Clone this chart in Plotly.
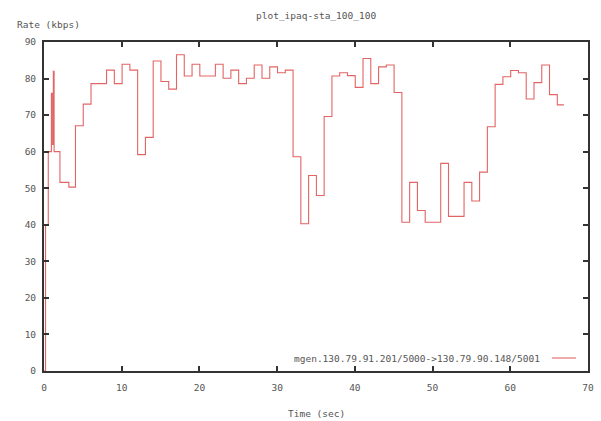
import plotly.graph_objects as go

# ---- data ----
time_sec = [0.0, 0.20, 0.55, 0.95, 1.05, 1.20, 1.30,
            2.05, 3.2, 4.05, 5.05, 6.05, 7.05, 8.05, 9.05, 10.05, 11.05,
            12.05, 13.05, 14.05, 15.05, 16.05, 17.05, 18.05, 19.05, 20.05, 21.05,
            22.05, 23.05, 24.05, 25.05, 26.05, 27.05, 28.05, 29.05, 30.05, 31.05,
            32.05, 33.05, 34.05, 35.05, 36.05, 37.05, 38.05, 39.05, 40.05, 41.05,
            42.05, 43.05, 44.05, 45.05, 46.05, 47.05, 48.05, 49.05, 50.05, 51.05,
            52.05, 53.05, 54.05, 55.05, 56.05, 57.05, 58.05, 59.05, 60.05, 61.05,
            62.05, 63.05, 64.05, 65.05, 66.05, 66.9]
rate_kbps = [0, 40, 60, 76, 62, 82, 60,
             51.6, 50.3, 67.1, 73.0, 78.6, 78.6, 82.3, 78.6, 83.9, 82.3,
             59.2, 63.9, 84.8, 79.2, 77.1, 86.5, 80.7, 83.9, 80.7, 80.7,
             83.9, 80.1, 82.3, 78.6, 80.1, 83.7, 80.1, 83.2, 81.6, 82.3,
             58.6, 40.3, 53.5, 48.0, 69.6, 80.7, 81.6, 80.8, 77.6, 85.5,
             78.6, 83.2, 83.7, 76.2, 40.7, 51.6, 43.9, 40.7, 40.7, 56.8,
             42.3, 42.3, 51.6, 46.5, 54.4, 66.8, 78.4, 80.5, 82.2, 81.6,
             74.4, 78.9, 83.7, 75.6, 72.8, 72.8]

x_ticks = [0, 10, 20, 30, 40, 50, 60, 70]
y_ticks = [0, 10, 20, 30, 40, 50, 60, 70, 80, 90]

title_text = "plot_ipaq-sta_100_100"
x_label = "Time (sec)"
y_label = "Rate (kbps)"
series_name = "mgen.130.79.91.201/5000->130.79.90.148/5001"

LINE_COLOR = "#e26464"
FONT = dict(family="DejaVu Sans Mono, Liberation Mono, monospace", size=9.5, color="#555555")

fig = go.Figure()
fig.add_trace(go.Scatter(
    x=time_sec, y=rate_kbps, mode="lines", name=series_name,
    line=dict(color=LINE_COLOR, width=1.1, shape="hv"),
    showlegend=False, hoverinfo="skip",
))

axis_common = dict(
    showgrid=False, zeroline=False, showline=True, linecolor="#333333", linewidth=2,
    mirror="ticks", ticks="inside", ticklen=5, tickwidth=1.5, tickcolor="#333333",
    tickfont=FONT,
)
fig.update_xaxes(range=[0, 70], tickvals=x_ticks, ticktext=[str(v) for v in x_ticks],
                 ticklabelstandoff=7, **axis_common)
fig.update_yaxes(range=[0, 90], tickvals=y_ticks, ticktext=[str(v) for v in y_ticks],
                 ticklabelstandoff=4, **axis_common)

fig.update_layout(
    width=601, height=421,
    margin=dict(l=44, r=7, t=42, b=50),
    paper_bgcolor="white", plot_bgcolor="white",
    font=FONT,
    showlegend=False,
    annotations=[
        dict(text=title_text, xref="paper", yref="paper", x=0.5, y=1, yshift=27,
             xanchor="center", yanchor="middle", showarrow=False, font=FONT),
        dict(text=y_label, xref="paper", yref="paper", x=0, xshift=-29, y=1, yshift=18,
             xanchor="left", yanchor="middle", showarrow=False, font=FONT),
        dict(text=x_label, xref="paper", yref="paper", x=0.5, y=0, yshift=-42,
             xanchor="center", yanchor="middle", showarrow=False, font=FONT),
        dict(text=series_name, xref="paper", yref="paper", x=1, xshift=-46, y=0, yshift=13,
             xanchor="right", yanchor="middle", showarrow=False, font=FONT),
    ],
)
# key sample line (gnuplot style: text first, sample line on the right)
fig.add_shape(type="line", xref="paper", yref="paper",
              xsizemode="pixel", ysizemode="pixel", xanchor=1, yanchor=0,
              x0=-36, x1=-12, y0=13, y1=13,
              line=dict(color=LINE_COLOR, width=1.1))

fig.write_html("out.html")
